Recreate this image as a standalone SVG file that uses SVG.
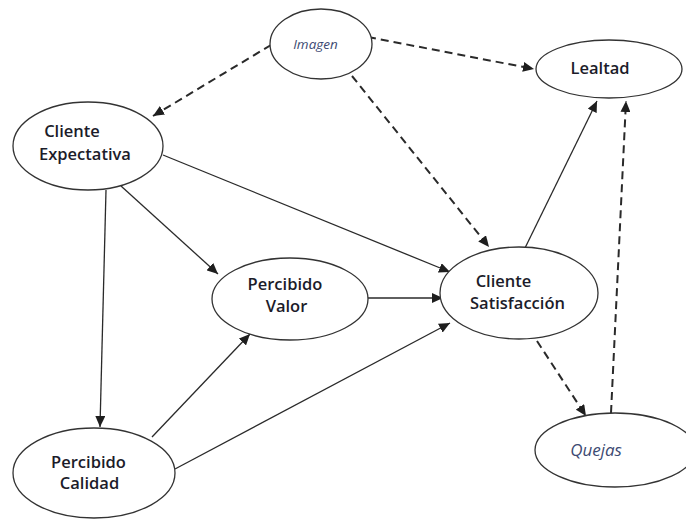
<svg xmlns="http://www.w3.org/2000/svg" width="686" height="519" viewBox="0 0 686 519">
  <style>
    .node ellipse { fill: #ffffff; stroke: #333333; stroke-width: 1.3; }
    .lbl { font-family: "Open Sans", "Noto Sans", "DejaVu Sans", sans-serif; font-weight: 600; font-size: 16.5px; fill: #1c1c2a; text-anchor: middle; }
    .lbl-it { font-family: "Open Sans", "Noto Sans", "DejaVu Sans", sans-serif; font-style: italic; fill: #3d4a72; text-anchor: middle; }
    .solid { fill: none; stroke: #2a2a2a; stroke-width: 1.3; marker-end: url(#arrow); }
    .dash { fill: none; stroke: #2a2a2a; stroke-width: 2; stroke-dasharray: 8 5; marker-end: url(#arrow); }
  </style>
  <defs>
    <marker id="arrow" markerUnits="userSpaceOnUse" markerWidth="12" markerHeight="10" refX="11" refY="5" orient="auto">
      <path d="M0,0 L11,5 L0,10 Z" fill="#1e1e1e"/>
    </marker>
  </defs>
  <rect width="686" height="519" fill="#ffffff"/>

  <g id="connectors">
    <path class="dash" d="M271,45 L153,116"/>
    <path class="dash" d="M368,37 L534,69"/>
    <path class="dash" d="M352,76 L489,247"/>
    <path class="solid" d="M163,155 L450,272"/>
    <path class="solid" d="M121,186 L218,274"/>
    <path class="solid" d="M106,190 L100,427"/>
    <path class="solid" d="M368,298 L443,298"/>
    <path class="solid" d="M152,437 L250,334"/>
    <path class="solid" d="M175,469 L450,323"/>
    <path class="solid" d="M525,248 L597,101"/>
    <path class="dash" d="M537,341 L586,416"/>
    <path class="dash" d="M611,413 L626,101"/>
  </g>

  <g id="imagen" class="node">
    <ellipse cx="321" cy="44" rx="51" ry="35"/>
    <text class="lbl-it" x="315.5" y="49" font-size="13.5">Imagen</text>
  </g>
  <g id="lealtad" class="node">
    <ellipse cx="609" cy="69" rx="73" ry="29"/>
    <text class="lbl" x="600" y="74">Lealtad</text>
  </g>
  <g id="cliente-expectativa" class="node">
    <ellipse cx="88" cy="146" rx="75" ry="44"/>
    <text class="lbl" x="72" y="137">Cliente</text>
    <text class="lbl" x="85" y="160">Expectativa</text>
  </g>
  <g id="percibido-valor" class="node">
    <ellipse cx="290" cy="299" rx="78" ry="41"/>
    <text class="lbl" x="285" y="290">Percibido</text>
    <text class="lbl" x="286.5" y="312">Valor</text>
  </g>
  <g id="cliente-satisfaccion" class="node">
    <ellipse cx="519" cy="293" rx="79" ry="46"/>
    <text class="lbl" x="503.5" y="287">Cliente</text>
    <text class="lbl" x="517.5" y="309">Satisfacción</text>
  </g>
  <g id="quejas" class="node">
    <ellipse cx="615" cy="450" rx="80" ry="37"/>
    <text class="lbl-it" x="596" y="456" font-size="17">Quejas</text>
  </g>
  <g id="percibido-calidad" class="node">
    <ellipse cx="94" cy="473" rx="81" ry="45"/>
    <text class="lbl" x="88.5" y="468">Percibido</text>
    <text class="lbl" x="89.5" y="489" font-size="14">Calidad</text>
  </g>
</svg>
